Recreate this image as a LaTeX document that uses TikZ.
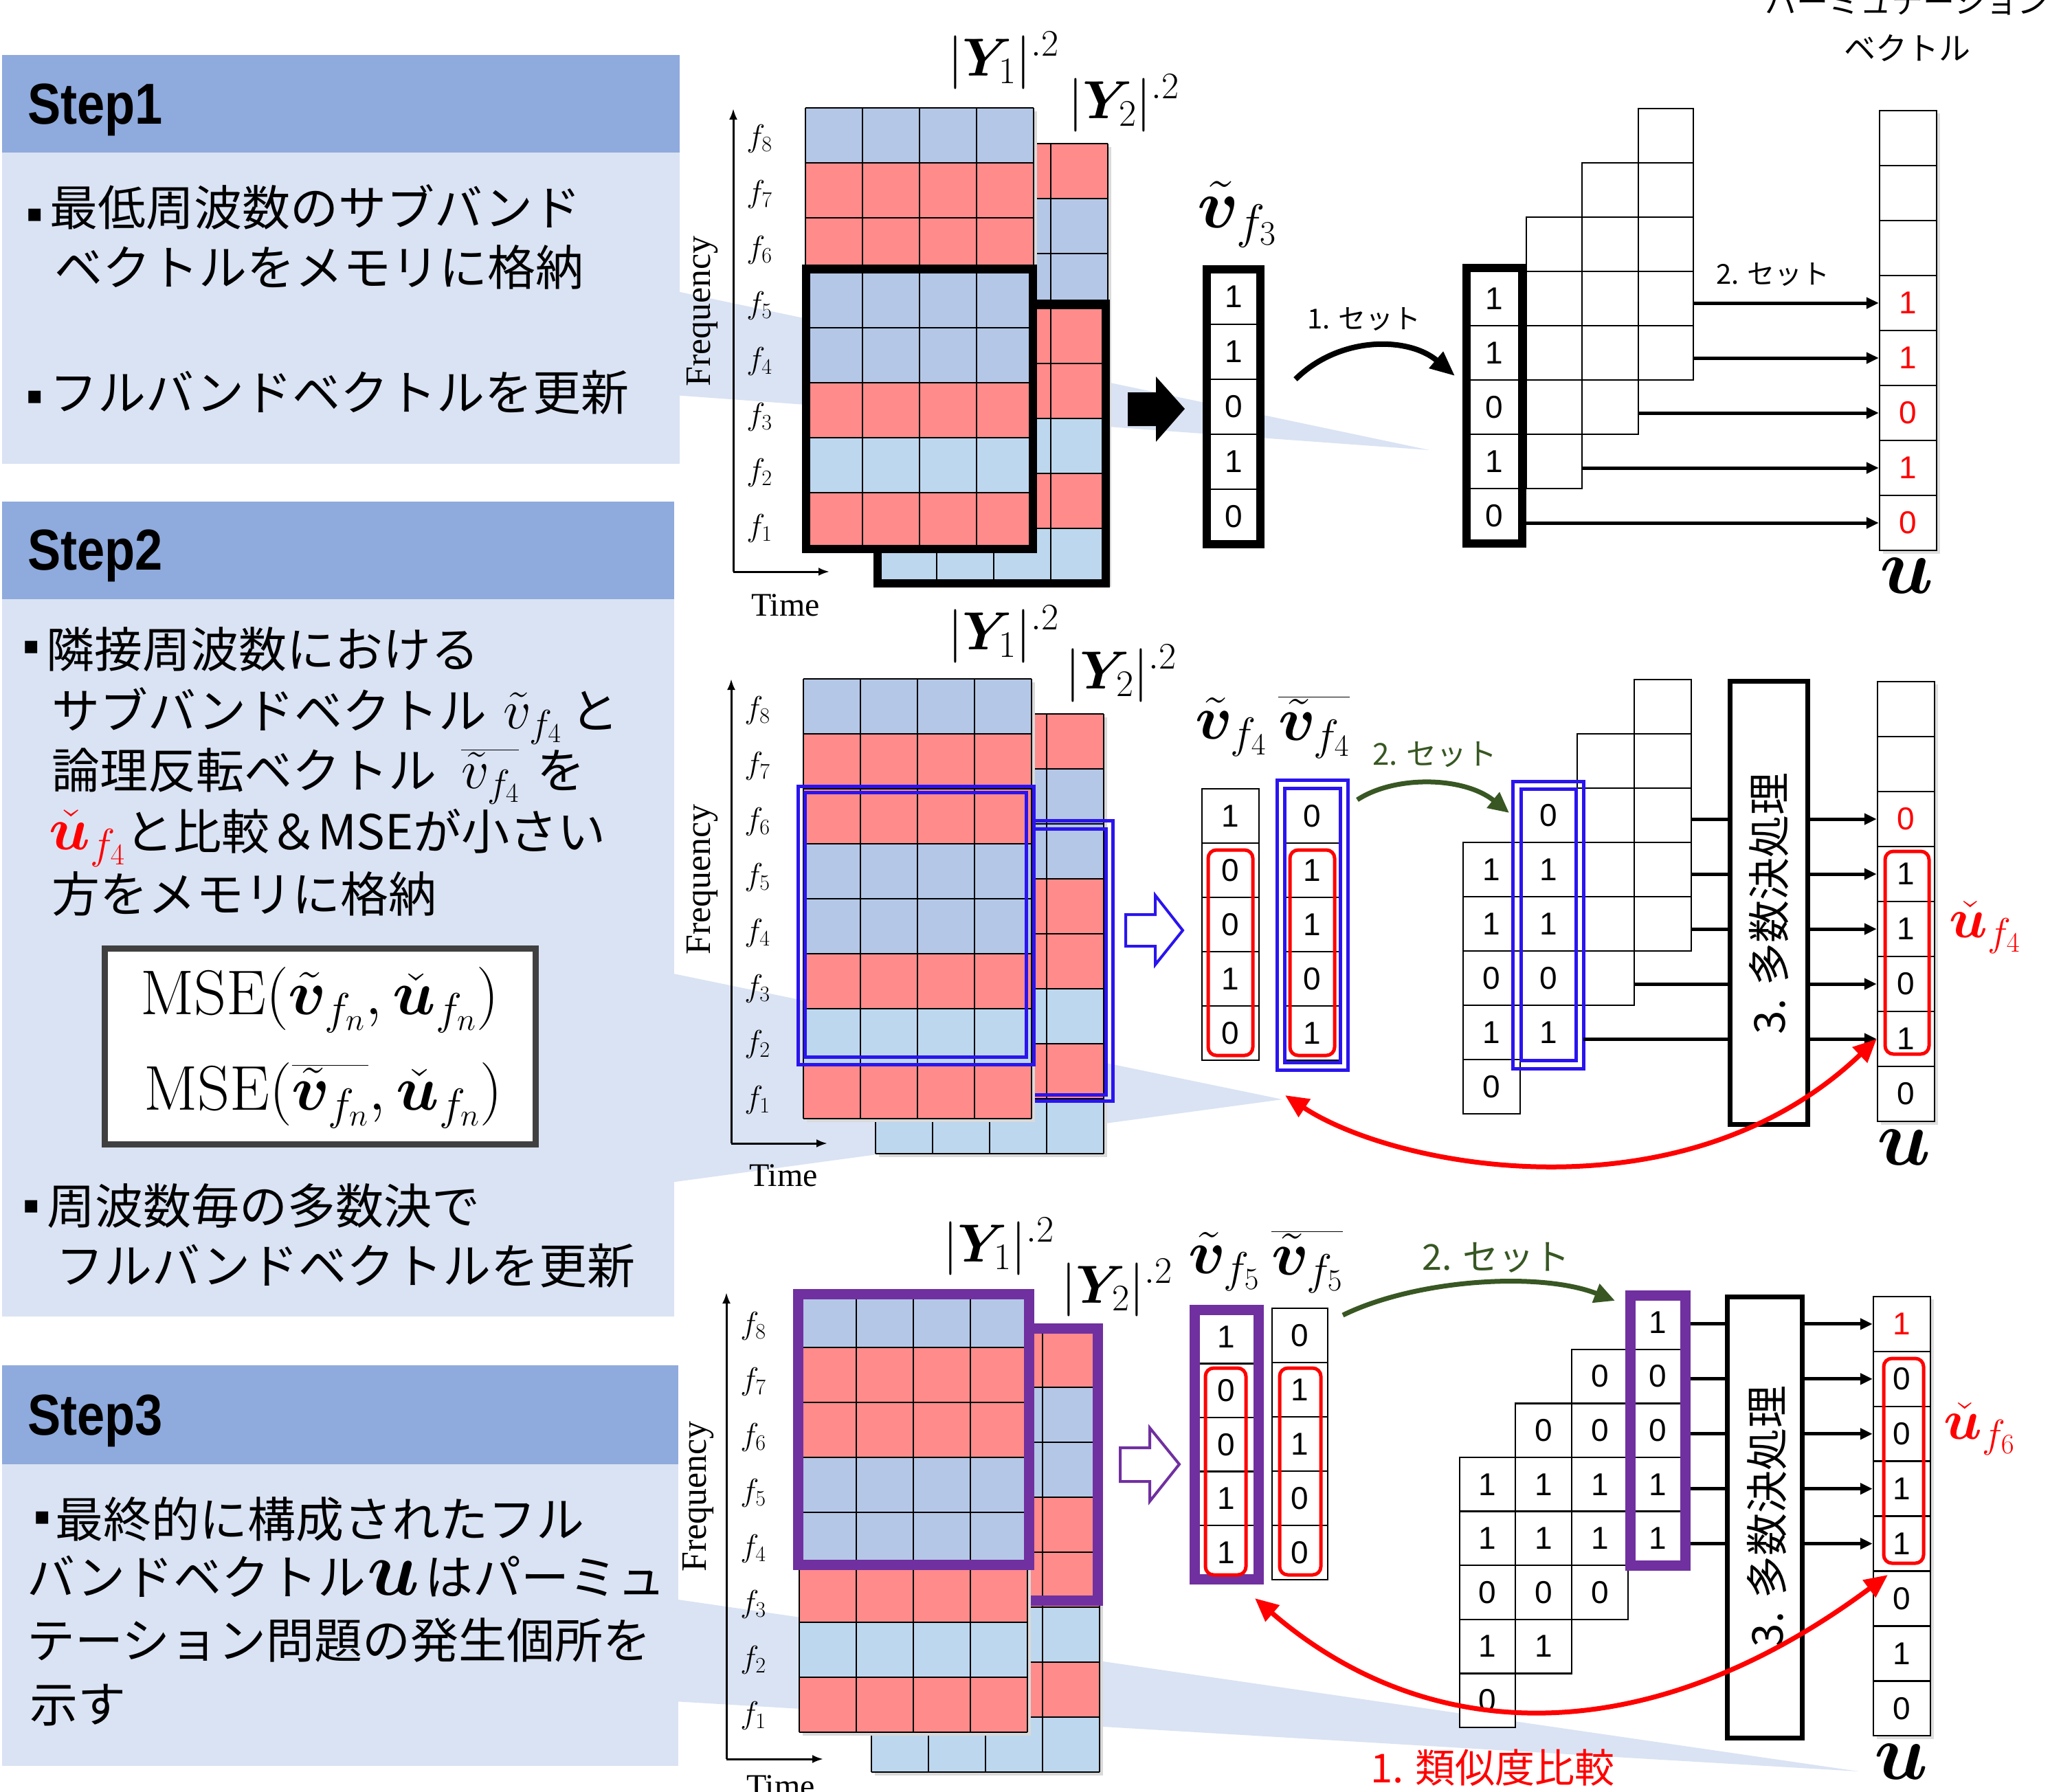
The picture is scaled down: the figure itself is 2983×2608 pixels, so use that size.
\RequirePackage{fix-cm}
\documentclass[tikz,border=0pt]{standalone}
\usepackage[no-math]{fontspec}
\usepackage{amsmath,bm}
\usetikzlibrary{arrows.meta}
\newfontfamily\jp{Noto Sans CJK JP}
\newfontfamily\ar{Liberation Sans}
\newfontfamily\arn{Liberation Sans}[FakeStretch=0.86]
\newfontfamily\tms{Liberation Serif}
\newfontfamily\djv{DejaVu Sans}
\newcommand\fsz[1]{\fontsize{#1}{#1}\selectfont}
\newcommand\rd[1]{\textcolor{red}{#1}}
\definecolor{hd}{HTML}{8FAADC}
\definecolor{bd}{HTML}{DAE3F3}
\definecolor{sR}{HTML}{FF8B8B}
\definecolor{sB}{HTML}{B4C7E7}
\definecolor{sL}{HTML}{BDD7EE}
\definecolor{bl}{HTML}{2A14EE}
\definecolor{pu}{HTML}{7030A0}
\definecolor{gr}{HTML}{385723}
\definecolor{dg}{HTML}{404040}
\newcommand\specgrid[3]{%
  \fill[black!15] ({#1+5},{#2+5}) rectangle ({#1+337},{#2+645});
  \foreach \cc [count=\ii from 0] in {#3}{%
    \fill[\cc] ({#1},{#2+\ii*80}) rectangle ({#1+332},{#2+\ii*80+80});
  }%
  \foreach \kk in {0,...,8}{\draw[gl] ({#1},{#2+\kk*80}) -- ({#1+332},{#2+\kk*80});}%
  \foreach \kk in {0,...,4}{\draw[gl] ({#1+\kk*83},{#2}) -- ({#1+\kk*83},{#2+640});}%
}
\newcommand\vcol[6]{%
  \foreach \val [count=\ii from 0] in {#6}{%
    \node[cellb, minimum width=#4pt, minimum height=#5pt] (#1-\ii) at ({#2+#4/2},{#3+(\ii+0.5)*#5}) {\val};
  }%
}
\newcommand\ushadow[3]{\fill[black!13] ({#1+5},{#2+4}) rectangle ({#1+88},{#2+#3+5});}
\begin{document}
\begin{tikzpicture}[x=1pt,y=-1pt,
  gl/.style={line width=2.5pt, black},
  cellb/.style={draw=black, line width=2.5pt, fill=white, inner sep=0pt, font=\ar\fsz{46}},
  harr/.style={line width=5pt, -{Triangle[length=18pt,width=16pt]}},
  hln/.style={line width=5pt},
  axis/.style={line width=3pt, -{Latex[length=16pt,width=12pt]}},
  rarr/.style={red, line width=7pt, {Triangle[length=34pt,width=30pt]}-{Triangle[length=34pt,width=30pt]}},
  garr/.style={gr, line width=7pt, -{Triangle[length=30pt,width=28pt]}},
  rbox/.style={draw=red, line width=5pt, rounded corners=12pt},
  jt/.style={font=\jp\fsz{70}, anchor=base west, inner sep=0pt},
  bul/.style={font=\djv\fsz{36}, inner sep=0pt},
  steplab/.style={font=\arn\bfseries\fsz{84}, anchor=west, inner sep=0pt},
  flab/.style={font=\fsz{46}},
  freq/.style={font=\tms\fsz{52}, rotate=90},
  tlab/.style={font=\tms\fsz{48}},
  ylab/.style={font=\fsz{78}},
  vlab/.style={font=\fsz{90}},
  majbox/.style={draw, line width=7pt, inner sep=0pt, fill=white},
  majtxt/.style={font=\jp\fsz{62}, rotate=90},
  setlab/.style={font=\jp\fsz{40}},
  ulab/.style={font=\fsz{115}},
]
\useasboundingbox (0,0) rectangle (2983,2608);
% ---------- left panels ----------
\fill[hd] (3,80) rectangle (989,222);
\fill[bd] (3,222) rectangle (989,675);
\fill[hd] (3,730) rectangle (981,872);
\fill[bd] (3,872) rectangle (981,1916);
\fill[hd] (3,1987) rectangle (987,2131);
\fill[bd] (3,2131) rectangle (987,2570);
% wedges
\fill[bd] (980,423) -- (2080,655) -- (980,575) -- cycle;
\fill[bd] (975,1416) -- (1866,1600) -- (975,1721) -- cycle;
\fill[bd] (980,2327) -- (2705,2578) -- (980,2476) -- cycle;

\node[steplab] (st1) at (40,160) {Step1};
\node[steplab] (st2) at (40,809) {Step2};
\node[steplab] (st3) at (40,2068) {Step3};

\node[bul] (b1) at (51,313) {▪};
\node[jt] (t11) at (72,328) {最低周波数のサブバンド};
\node[jt] (t12) at (79,415) {ベクトルをメモリに格納};
\node[bul] (b2) at (51,578) {▪};
\node[jt] (t13) at (72,597) {フルバンドベクトルを更新};

\node[bul] (b3) at (46,942) {▪};
\node[jt] (t21) at (67,971) {隣接周波数における};
\node[jt] (t22) at (75,1060) {サブバンドベクトル\hspace{24pt}{\fsz{80}$\tilde v_{f_4}$}\hspace{14pt}と};
\node[jt] (t23) at (75,1147) {論理反転ベクトル\hspace{36pt}{\fsz{80}$\overline{\tilde v_{f_4}}$}\hspace{26pt}を};
\node[jt] (t24) at (71,1236) {\textcolor{red}{\fsz{88}$\check{\boldsymbol u}_{f_4}$}と比較＆MSEが小さい};
\node[jt] (t25) at (75,1327) {方をメモリに格納};
\node[draw=dg, line width=9pt, fill=white, minimum width=627pt, minimum height=285pt, inner sep=0pt] (mse) at (465.5,1522.5) {};
\node[font=\fsz{92}] (mse1) at (465,1455) {$\mathrm{MSE}(\tilde{\boldsymbol v}_{f_n},\check{\boldsymbol u}_{f_n})$};
\node[font=\fsz{92}] (mse2) at (470,1594) {$\mathrm{MSE}(\overline{\tilde{\boldsymbol v}_{f_n}},\check{\boldsymbol u}_{f_n})$};
\node[bul] (b4) at (46,1756) {▪};
\node[jt] (t26) at (68,1781) {周波数毎の多数決で};
\node[jt] (t27) at (81,1868) {フルバンドベクトルを更新};

\node[bul] (b5) at (62,2209) {▪};
\node[jt] (t31) at (80,2237) {最終的に構成されたフル};
\node[jt] (t32) at (39,2321) {バンドベクトル\hspace{2pt}{\fsz{112}$\boldsymbol u$}\hspace{8pt}はパーミュ};
\node[jt] (t33) at (39,2413) {テーション問題の発生個所を};
\node[jt] (t34) at (43,2506) {示す};

% top-right title
\node[font=\jp\fontsize{46}{68}\selectfont, align=center] (pvt) at (2775,36) {パーミュテーション\\ベクトル};

% ================= ROW 1 =================
\draw[axis] (1067,832) -- (1067,158);
\draw[axis] (1067,832) -- (1207,832);
\foreach \k in {1,...,8} \node[flab] (fa\k) at (1105,{202+(8-\k)*81}) {$f_{\k}$};
\node[freq] (fqA) at (1022,453) {Frequency};
\node[tlab] (tmA) at (1143,881) {Time};
\specgrid{1280}{209}{sR,sB,sB,sR,sR,sL,sR,sL}
\draw[line width=12pt] (1277,442) rectangle (1609,849);
\specgrid{1172}{157}{sB,sR,sR,sB,sB,sR,sL,sR}
\draw[line width=12pt] (1173,391) rectangle (1503,799);
\node[ylab] (y1A) at (1460,88) {$|\boldsymbol{Y}_1|^{.2}$};
\node[ylab] (y2A) at (1635,150) {$|\boldsymbol{Y}_2|^{.2}$};
\fill (1641,571) -- (1682,571) -- (1682,548) -- (1724,595) -- (1682,643) -- (1682,620) -- (1641,620) -- cycle;
\node[font=\fsz{100}] (vlA) at (1800,312) {$\tilde{\boldsymbol v}_{f_3}$};
\vcol{vA}{1756}{392}{78}{80}{1,1,0,1,0}
\draw[line width=12pt] (1756,392) rectangle (1834,792);
% staircase
\vcol{sA3}{2384}{158}{80}{79}{{},{},{},{},{}}
\vcol{sA2}{2302}{237}{82}{79}{{},{},{},{},{}}
\vcol{sA1}{2221}{316}{81}{79}{{},{},{},{},{}}
\vcol{vA2}{2134}{395}{81}{79}{1,1,0,1,0}
\draw[line width=12pt] (2134,390) rectangle (2215,791);
\coordinate (c1s) at (1885,552);
\coordinate (c1e) at (2117,547);
\draw[line width=8pt, -{Triangle[length=36pt,width=30pt]}] (c1s) .. controls (1950,488) and (2050,490) .. (c1e);
\node[setlab] (set1) at (1985,465) {1. セット};
\ushadow{2735}{161}{640}
\vcol{uA}{2735}{161}{83}{80}{{},{},{},\rd{1},\rd{1},\rd{0},\rd{1},\rd{0}}
\coordinate (a3) at (2464,0);
\coordinate (a2) at (2384,0);
\coordinate (a1) at (2302,0);
\coordinate (a0) at (2221,0);
\draw[harr] (uA-3.west -| a3) -- (uA-3.west);
\draw[harr] (uA-4.west -| a3) -- (uA-4.west);
\draw[harr] (uA-5.west -| a2) -- (uA-5.west);
\draw[harr] (uA-6.west -| a1) -- (uA-6.west);
\draw[harr] (uA-7.west -| a0) -- (uA-7.west);
\node[setlab] (set2) at (2580,400) {2. セット};
\node[ulab] (uAl) at (2775,838) {$\boldsymbol u$};

% ================= ROW 2 =================
\draw[axis] (1064,1664) -- (1064,988);
\draw[axis] (1064,1664) -- (1204,1664);
\foreach \k in {1,...,8} \node[flab] (fb\k) at (1102,{1034+(8-\k)*81}) {$f_{\k}$};
\node[freq] (fqB) at (1022,1280) {Frequency};
\node[tlab] (tmB) at (1140,1711) {Time};
\specgrid{1274}{1039}{sR,sB,sB,sR,sR,sL,sR,sL}
\draw[bl, line width=5pt] (1290,1194) rectangle (1619,1602);
\draw[bl, line width=5pt] (1300,1206) rectangle (1609,1593);
\specgrid{1169}{988}{sB,sR,sR,sB,sB,sR,sL,sR}
\draw[bl, line width=5pt] (1161,1144) rectangle (1504,1549);
\draw[bl, line width=5pt] (1171,1153) rectangle (1493,1538);
\node[ylab] (y1B) at (1460,923) {$|\boldsymbol{Y}_1|^{.2}$};
\node[ylab] (y2B) at (1631,980) {$|\boldsymbol{Y}_2|^{.2}$};
\draw[bl, line width=4pt, fill=white] (1638,1331) -- (1681,1331) -- (1681,1303) -- (1721,1354) -- (1681,1404) -- (1681,1377) -- (1638,1377) -- cycle;
\node[vlab] (vlB) at (1791,1058) {$\tilde{\boldsymbol v}_{f_4}$};
\node[vlab] (wlB) at (1912,1058) {$\overline{\tilde{\boldsymbol v}_{f_4}}$};
\vcol{vB}{1749}{1148}{83}{79}{1,0,0,1,0}
\draw[rbox] (1758,1237) rectangle (1823,1536);
\vcol{wB}{1869}{1148}{81}{79}{0,1,1,0,1}
\draw[bl, line width=5pt] (1858,1135) rectangle (1961,1557);
\draw[bl, line width=5pt] (1869,1147) rectangle (1950,1546);
\draw[rbox] (1877,1237) rectangle (1942,1536);
% stack
\vcol{sB3}{2378}{989}{83}{79}{{},{},{},{},{}}
\vcol{sB2}{2295}{1068}{83}{79}{{},{},{},{},{}}
\vcol{sB1}{2212}{1147}{83}{79}{0,1,1,0,1}
\vcol{sB0}{2129}{1226}{83}{79}{1,1,0,1,0}
\draw[bl, line width=5pt] (2201,1137) rectangle (2304,1555);
\draw[bl, line width=5pt] (2213,1148) rectangle (2293,1543);
\coordinate (g2s) at (1975,1164);
\coordinate (g2e) at (2196,1183);
\draw[garr] (g2s) .. controls (2030,1128) and (2130,1130) .. (g2e);
\node[font=\jp\fsz{44}, text=gr] (set3) at (2088,1098) {2. セット};
\node[majbox, minimum width=113pt, minimum height=645pt] (mj2) at (2573.5,1313.5) {};
\node[majtxt] (mt2) at (2574,1315) {3. 多数決処理};
\ushadow{2732}{992}{640}
\vcol{uB}{2732}{992}{83}{80}{{},{},\rd{0},1,1,0,1,0}
\draw[rbox] (2743,1239) rectangle (2807,1534);
\coordinate (b3) at (2461,0);
\coordinate (b2) at (2378,0);
\coordinate (b1) at (2304,0);
\draw[hln] (uB-2.west -| b3) -- (uB-2.west -| mj2.west);
\draw[hln] (uB-3.west -| b3) -- (uB-3.west -| mj2.west);
\draw[hln] (uB-4.west -| b3) -- (uB-4.west -| mj2.west);
\draw[hln] (uB-5.west -| b2) -- (uB-5.west -| mj2.west);
\draw[hln] (uB-6.west -| b1) -- (uB-6.west -| mj2.west);
\foreach \r in {2,...,6} \draw[harr] (uB-\r.west -| mj2.east) -- (uB-\r.west);
\node[font=\fsz{82}, text=red] (ucB) at (2888,1350) {$\check{\boldsymbol u}_{f_4}$};
\node[ulab] (uBl) at (2771,1670) {$\boldsymbol u$};
\coordinate (r2s) at (1870,1594);
\draw[rarr] (r2s) .. controls (2030,1700) and (2450,1780) .. (uB-6.west);

% ================= ROW 3 =================
\draw[axis] (1057,2560) -- (1057,1881);
\draw[axis] (1057,2560) -- (1198,2560);
\foreach \k in {1,...,8} \node[flab] (fc\k) at (1096,{1930+(8-\k)*81}) {$f_{\k}$};
\node[freq] (fqC) at (1016,2178) {Frequency};
\node[tlab] (tmC) at (1136,2600) {Time};
\specgrid{1268}{1939}{sR,sB,sB,sR,sR,sL,sR,sL}
\draw[pu, line width=15pt] (1300,1933) rectangle (1597,2329);
\specgrid{1163}{1881}{sB,sR,sR,sB,sB,sR,sL,sR}
\draw[pu, line width=15pt] (1161,1883) rectangle (1497,2277);
\node[ylab] (y1C) at (1453,1814) {$|\boldsymbol{Y}_1|^{.2}$};
\node[ylab] (y2C) at (1625,1874) {$|\boldsymbol{Y}_2|^{.2}$};
\draw[pu, line width=4pt, fill=white] (1630,2107) -- (1673,2107) -- (1673,2078) -- (1716,2131) -- (1673,2185) -- (1673,2156) -- (1630,2156) -- cycle;
\node[vlab] (vlC) at (1781,1836) {$\tilde{\boldsymbol v}_{f_5}$};
\node[vlab] (wlC) at (1902,1836) {$\overline{\tilde{\boldsymbol v}_{f_5}}$};
\vcol{vC}{1738}{1906}{93}{78.5}{1,0,0,1,1}
\draw[pu, line width=15pt] (1738,1906) rectangle (1831,2298);
\draw[rbox] (1754,1991) rectangle (1813,2292);
\vcol{wC}{1851}{1904}{81}{79}{0,1,1,0,0}
\draw[rbox] (1862,1991) rectangle (1922,2292);
% stack
\vcol{sC0}{2124}{2121}{81}{78.6}{1,1,0,1,0}
\vcol{sC1}{2205}{2042.4}{82}{78.6}{0,1,1,0,1}
\vcol{sC2}{2287}{1963.8}{82}{78.6}{0,0,1,1,0}
\vcol{sC3}{2372}{1885.2}{80}{78.6}{1,0,0,1,1}
\draw[pu, line width=15pt] (2372,1885) rectangle (2452,2278);
\coordinate (g3s) at (1954,1914);
\coordinate (g3e) at (2350,1893);
\draw[garr] (g3s) .. controls (2060,1862) and (2240,1850) .. (g3e);
\node[font=\jp\fsz{52}, text=gr] (set4) at (2177,1830) {2. セット};
\node[majbox, minimum width=109pt, minimum height=642pt] (mj3) at (2567.5,2208) {};
\node[majtxt] (mt3) at (2571,2207) {3. 多数決処理};
\ushadow{2726}{1887}{639}
\vcol{uC}{2726}{1887}{83}{79.9}{\rd{1},0,0,1,1,0,1,0}
\draw[rbox] (2741,1977) rectangle (2799,2275);
\coordinate (c3) at (2460,0);
\foreach \r in {0,...,4} \draw[hln] (uC-\r.west -| c3) -- (uC-\r.west -| mj3.west);
\foreach \r in {0,...,4} \draw[harr] (uC-\r.west -| mj3.east) -- (uC-\r.west);
\node[font=\fsz{82}, text=red] (ucC) at (2880,2080) {$\check{\boldsymbol u}_{f_6}$};
\node[ulab] (uCl) at (2767,2564) {$\boldsymbol u$};
\coordinate (r3s) at (1826,2326);
\coordinate (r3e) at (2747,2292);
\draw[rarr] (r3s) .. controls (2080,2545) and (2400,2550) .. (r3e);
\node[font=\jp\fsz{58}, text=red] (sim) at (2172,2573) {1. 類似度比較};
\end{tikzpicture}
\end{document}
